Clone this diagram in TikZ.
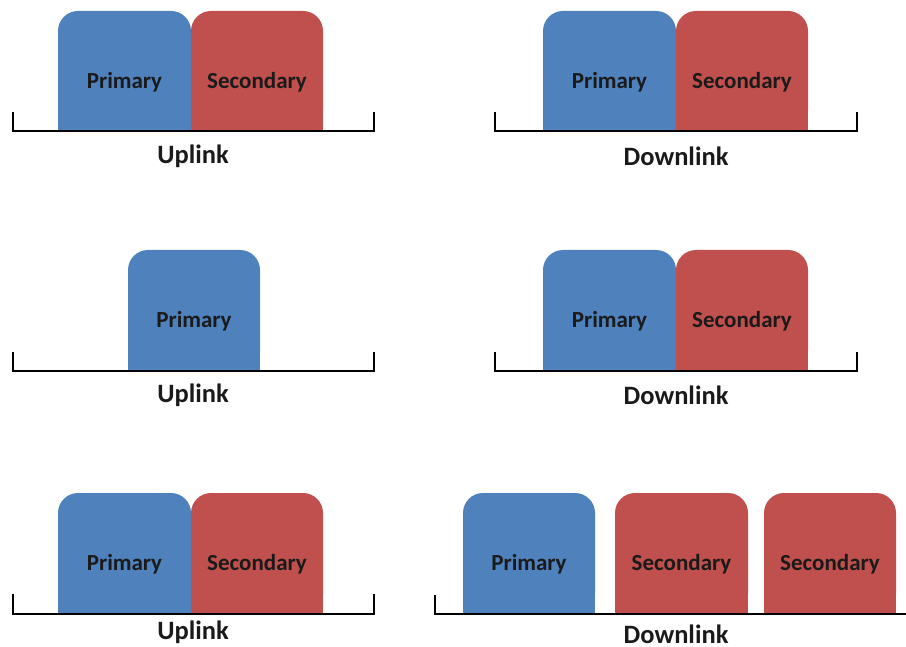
\documentclass[tikz,border=0pt]{standalone}
\usepackage{fontspec}
\setmainfont{Carlito}
\definecolor{pblue}{HTML}{4F81BD}
\definecolor{sred}{HTML}{C0504D}
\definecolor{txt}{HTML}{1A1A1A}
\tikzset{
  bandtext/.style={font=\bfseries\fontsize{23}{23}\selectfont, text=txt, inner sep=0pt},
  linklabel/.style={font=\bfseries\fontsize{26.5}{26.5}\selectfont, text=txt, inner sep=0pt},
  bracket/.style={line width=2pt, black},
}
% \band{name}{color}{x1}{x2}{top}{bottom}{label}
\newcommand{\band}[7]{%
  \fill[#2, rounded corners=20pt] (#3,#5) rectangle (#4,#6);
  \fill[#2] (#3,#5+30) rectangle (#4,#6);
  \node[bandtext] (#1) at ({(#3+#4)/2},{(#5+#6)/2+11}) {#7};
}
\begin{document}
\begin{tikzpicture}[x=1pt,y=-1pt]
\useasboundingbox (0,0) rectangle (906,647);
% Row 1 left
\band{p1}{pblue}{58}{191}{11}{131}{Primary}
\band{s1}{sred}{191}{323}{11}{131}{Secondary}
\coordinate (a1) at (13,112); \coordinate (b1) at (374,112);
\draw[bracket] (a1) -- (13,131.5) -- (374,131.5) -- (b1);
\node[linklabel] (u1) at (193,156) {Uplink};
% Row 1 right
\band{p2}{pblue}{543}{676}{11}{131}{Primary}
\band{s2}{sred}{676}{808}{11}{131}{Secondary}
\coordinate (a2) at (495,112); \coordinate (b2) at (857,112);
\draw[bracket] (a2) -- (495,131.5) -- (857,131.5) -- (b2);
\node[linklabel] (d2) at (676,156) {Downlink};
% Row 2 left
\band{p3}{pblue}{128}{260}{250}{371}{Primary}
\coordinate (a3) at (13,352); \coordinate (b3) at (374,352);
\draw[bracket] (a3) -- (13,371.5) -- (374,371.5) -- (b3);
\node[linklabel] (u3) at (193,395) {Uplink};
% Row 2 right
\band{p4}{pblue}{543}{676}{250}{371}{Primary}
\band{s4}{sred}{676}{808}{250}{371}{Secondary}
\coordinate (a4) at (495,352); \coordinate (b4) at (857,352);
\draw[bracket] (a4) -- (495,371.5) -- (857,371.5) -- (b4);
\node[linklabel] (d4) at (676,395) {Downlink};
% Row 3 left
\band{p5}{pblue}{58}{191}{493}{613}{Primary}
\band{s5}{sred}{191}{323}{493}{613}{Secondary}
\coordinate (a5) at (13,594); \coordinate (b5) at (374,594);
\draw[bracket] (a5) -- (13,613.5) -- (374,613.5) -- (b5);
\node[linklabel] (u5) at (193,632) {Uplink};
% Row 3 right
\band{p6}{pblue}{463}{595}{493}{613}{Primary}
\band{s6}{sred}{615}{748}{493}{613}{Secondary}
\band{s7}{sred}{764}{896}{493}{613}{Secondary}
\coordinate (a6) at (435,595); \coordinate (b6) at (906,614);
\draw[bracket] (a6) -- (435,614) -- (b6);
\node[linklabel] (d6) at (676,634.5) {Downlink};
\end{tikzpicture}
\end{document}
